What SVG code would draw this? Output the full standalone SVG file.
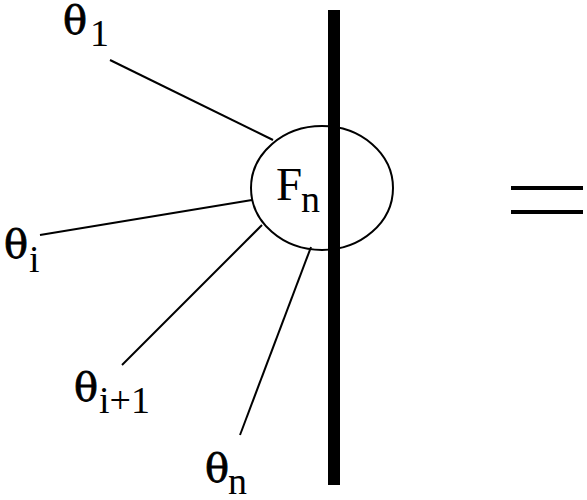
<svg xmlns="http://www.w3.org/2000/svg" width="587" height="500" viewBox="0 0 587 500">
<style>
.th{font-family:"DejaVu Serif","Liberation Serif",serif;font-size:40px;fill:#000;stroke:#000;stroke-width:0.8}
.s{font-family:"Liberation Serif","Times New Roman",serif;font-size:38px;fill:#000}
.f{font-family:"Liberation Serif","Times New Roman",serif;font-size:47px;fill:#000}
.l{stroke:#000;stroke-width:2;fill:none}
</style>
<rect width="587" height="500" fill="#fff"/>
<g id="connectors">
<line class="l" x1="110" y1="60" x2="273" y2="140"/>
<line class="l" x1="40" y1="235" x2="252" y2="200"/>
<line class="l" x1="122" y1="365" x2="262" y2="225"/>
<line class="l" x1="240" y1="435" x2="311" y2="247"/>
</g>
<g id="node-F">
<ellipse class="l" cx="322" cy="188" rx="71" ry="62"/>
<text class="f" x="276" y="200">F</text>
<text class="s" x="301" y="212">n</text>
</g>
<g id="wall">
<rect x="328" y="10" width="12" height="475" fill="#000"/>
</g>
<g id="equals">
<rect x="511" y="186" width="72" height="4" fill="#000"/>
<rect x="511" y="210" width="72" height="4" fill="#000"/>
</g>
<g id="label-1"><text class="th" x="63" y="34">θ</text><text class="s" x="90" y="46">1</text></g>
<g id="label-i"><text class="th" x="4" y="258">θ</text><text class="s" x="29" y="272">i</text></g>
<g id="label-i1"><text class="th" x="74" y="401">θ</text><text class="s" x="99" y="413">i+1</text></g>
<g id="label-n"><text class="th" x="205" y="482">θ</text><text class="s" x="228" y="494">n</text></g>
</svg>
